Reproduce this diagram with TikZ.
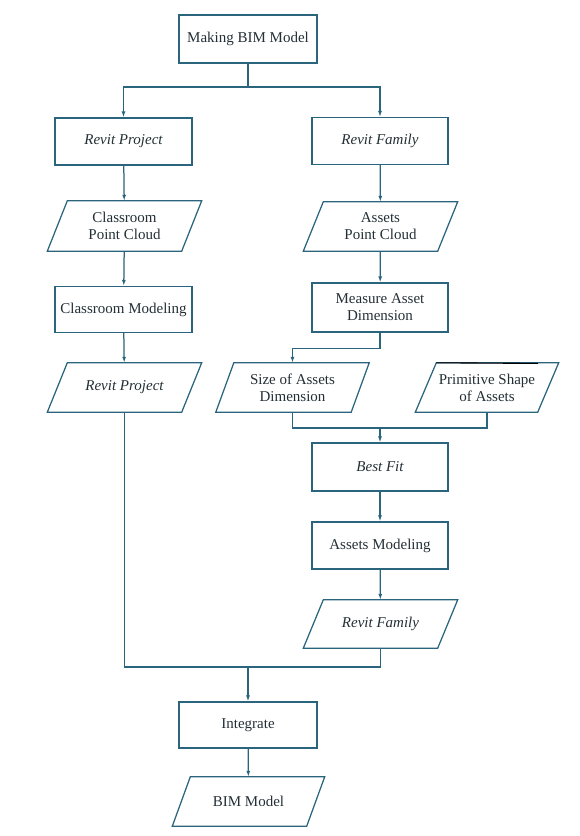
\documentclass[tikz,border=0pt]{standalone}
\usepackage{fontspec}
\setmainfont{Liberation Serif}
\usetikzlibrary{arrows.meta}
\definecolor{lncol}{RGB}{42,100,125}
\definecolor{txtcol}{RGB}{35,47,53}
\tikzset{
  ln/.style={draw=lncol, line width=1.25pt},
  arr/.style={ln, -{Latex[length=6pt,width=4pt]}},
  box/.style={ln, rectangle, inner sep=0pt, align=center, text=txtcol,
    font=\fontsize{15}{17}\selectfont},
  parabody/.style={rectangle, inner sep=0pt, align=center, text=txtcol,
    font=\fontsize{15}{17}\selectfont},
}
\newcommand{\parashape}[2]{%
  \draw[ln] ([xshift=#2]#1.north west) -- ([xshift=#2]#1.north east)
    -- ([xshift=-#2]#1.south east) -- ([xshift=-#2]#1.south west) -- cycle;}
\begin{document}
\begin{tikzpicture}[x=1pt,y=-1pt]
\useasboundingbox (0,0) rectangle (579,836);
% rectangles
\node[box, minimum width=138pt, minimum height=48pt] (top) at (248,39) {Making BIM Model};
\node[box, minimum width=137pt, minimum height=47pt] (rp1) at (123.5,141.5) {\itshape Revit Project};
\node[box, minimum width=136pt, minimum height=47pt] (rf1) at (380,141) {\itshape Revit Family};
\node[box, minimum width=137pt, minimum height=46pt] (cm) at (123.5,309.5) {Classroom Modeling};
\node[box, minimum width=136pt, minimum height=49pt] (mad) at (380,307.5) {Measure Asset\\Dimension};
\node[box, minimum width=136pt, minimum height=48pt] (bf) at (380,467) {\itshape Best Fit};
\node[box, minimum width=136pt, minimum height=47pt] (am) at (380,545.5) {Assets Modeling};
\node[box, minimum width=138pt, minimum height=46pt] (int) at (248,725) {Integrate};
% parallelograms
\node[parabody, minimum width=134pt, minimum height=50pt] (cpc) at (124.5,226) {Classroom\\Point Cloud};
\node[parabody, minimum width=134pt, minimum height=49pt] (apc) at (380.5,226.5) {Assets\\Point Cloud};
\node[parabody, minimum width=134pt, minimum height=49pt] (rp2) at (124.5,387.5) {\itshape Revit Project};
\node[parabody, minimum width=135pt, minimum height=49pt] (sad) at (292.5,387.5) {Size of Assets\\Dimension};
\node[parabody, minimum width=122pt, minimum height=49pt] (psa) at (487,387.5) {Primitive Shape\\of Assets};
\node[parabody, minimum width=134pt, minimum height=48pt] (rf2) at (380.5,624) {\itshape Revit Family};
\node[parabody, minimum width=134pt, minimum height=49pt] (bim) at (248.5,801.5) {BIM Model};
\parashape{cpc}{10pt}
\parashape{apc}{10pt}
\parashape{rp2}{10pt}
\parashape{sad}{9pt}
\parashape{psa}{10.5pt}
\parashape{rf2}{10pt}
\parashape{bim}{9pt}
\draw[black, line width=1.1pt] ([xshift=10.5pt]psa.north west) -- ([xshift=-10pt,yshift=-0.6pt]psa.north east);
% connectors
\coordinate (j0) at (248,87);
\draw[ln] (top.south) -- (j0);
\draw[arr] (j0) -| (rp1.north);
\draw[arr] (j0) -| (rf1.north);
\draw[arr] (rp1) -- (cpc);
\draw[arr] (cpc) -- (cm);
\draw[arr] (cm) -- (rp2);
\draw[arr] (rf1) -- (apc);
\draw[arr] (apc) -- (mad);
\draw[arr] (mad.south) -- ++(0,16) -| (sad.north);
\coordinate (j1) at (380,428);
\draw[ln] (sad.south) |- (j1) -| (psa.south);
\draw[arr] (j1) -- (bf.north);
\draw[arr] (bf) -- (am);
\draw[arr] (am) -- (rf2);
\coordinate (j2) at (248,667);
\draw[ln] (rf2.south) |- (j2) -| (rp2.south);
\draw[arr] (j2) -- (int.north);
\draw[arr] (int) -- (bim);
\end{tikzpicture}
\end{document}
